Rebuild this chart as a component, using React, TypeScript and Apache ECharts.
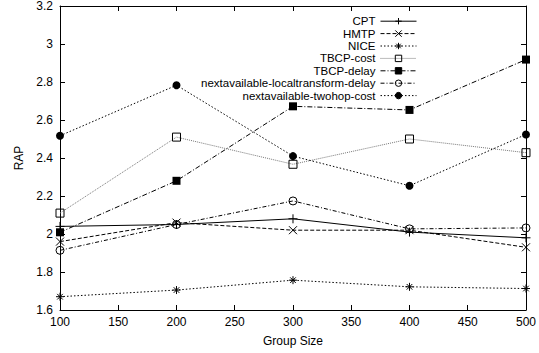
import React, { useEffect, useRef } from "react";
import * as echarts from "echarts";

const groupSizes = [100, 200, 300, 400, 500];
const seriesNames = [
  "CPT",
  "HMTP",
  "NICE",
  "TBCP-cost",
  "TBCP-delay",
  "nextavailable-localtransform-delay",
  "nextavailable-twohop-cost",
];
const cpt = [2.04, 2.05, 2.08, 2.01, 1.98];
const hmtp = [1.96, 2.06, 2.02, 2.02, 1.93];
const nice = [1.67, 1.705, 1.757, 1.722, 1.713];
const tbcpCost = [2.11, 2.51, 2.367, 2.5, 2.428];
const tbcpDelay = [2.009, 2.28, 2.672, 2.653, 2.918];
const localDelay = [1.914, 2.05, 2.174, 2.027, 2.032];
const twohopCost = [2.517, 2.783, 2.41, 2.254, 2.524];
const xTicks = [100, 150, 200, 250, 300, 350, 400, 450, 500];
const yTicks = [1.6, 1.8, 2, 2.2, 2.4, 2.6, 2.8, 3, 3.2];

const FONT = "Liberation Sans, Arial, Helvetica, sans-serif";

export default function App() {
  const ref = useRef<HTMLDivElement>(null);
  useEffect(() => {
    const chart = echarts.init(ref.current!, null, { renderer: "svg" });
    const values = [cpt, hmtp, nice, tbcpCost, tbcpDelay, localDelay, twohopCost];
    const plus = "path://M5 0 L5 10 M0 5 L10 5";
    const cross = "path://M0 0 L10 10 M10 0 L0 10";
    const star = "path://M5 0 L5 10 M0 5 L10 5 M1.5 1.5 L8.5 8.5 M8.5 1.5 L1.5 8.5";
    const sq = "path://M0 0 L10 0 L10 10 L0 10 Z";
    const circ = "path://M10 5 A5 5 0 1 1 0 5 A5 5 0 1 1 10 5 Z";
    const styles: any[] = [
      { symbol: plus, size: 9, hollow: true, dash: "solid", color: "#000" },
      { symbol: cross, size: 8, hollow: true, dash: [4, 2], color: "#000" },
      { symbol: star, size: 8, hollow: true, dash: [1.5, 2], color: "#000" },
      { symbol: sq, size: 8, hollow: true, dash: [1, 1], color: "#777" },
      { symbol: "rect", size: 8, hollow: false, dash: [5, 2, 1, 2], color: "#000" },
      { symbol: circ, size: 8, hollow: true, dash: [4, 2, 1, 2], color: "#000" },
      { symbol: "circle", size: 8, hollow: false, dash: [1.5, 2], color: "#000" },
    ];
    const series = seriesNames.map((name, i) => {
      const s = styles[i];
      return {
        name,
        type: "line",
        data: groupSizes.map((x, j) => [x, values[i][j]]),
        symbol: s.symbol,
        symbolSize: s.size,
        lineStyle: { color: s.color, width: 1, type: s.dash },
        itemStyle: s.hollow
          ? { color: "none", borderColor: "#000", borderWidth: 1 }
          : { color: "#000", borderColor: "#000", borderWidth: 0 },
        showSymbol: true,
        z: 3,
      };
    });
    const axisCommon = {
      axisLine: { show: true, lineStyle: { color: "#000", width: 1 } },
      axisTick: { show: true, inside: true, length: 5, lineStyle: { color: "#000" } },
      splitLine: { show: false },
    };
    chart.setOption({
      animation: false,
      grid: { left: 60, right: 12, top: 4, bottom: 43 },
      legend: {
        orient: "vertical",
        right: 117,
        top: 10,
        align: "right",
        itemWidth: 36,
        itemHeight: 8,
        itemGap: 0,
        lineStyle: { width: 1 },
        itemStyle: { borderWidth: 1 },
        textStyle: { fontFamily: FONT, fontSize: 11.5, color: "#000", lineHeight: 12.4 },
        data: seriesNames,
      },
      xAxis: [
        {
          type: "value",
          min: 100,
          max: 500,
          interval: 50,
          ...axisCommon,
          axisLabel: { fontFamily: FONT, fontSize: 12, color: "#000", margin: 6 },
          name: "Group Size",
          nameLocation: "middle",
          nameGap: 25,
          nameTextStyle: { fontFamily: FONT, fontSize: 12, color: "#000" },
        },
        {
          type: "value",
          position: "top",
          min: 100,
          max: 500,
          interval: 50,
          ...axisCommon,
          axisLabel: { show: false },
        },
      ],
      yAxis: [
        {
          type: "value",
          min: 1.6,
          max: 3.2,
          interval: 0.2,
          ...axisCommon,
          axisLabel: {
            fontFamily: FONT,
            fontSize: 12,
            color: "#000",
            margin: 7,
            formatter: (v: number) => String(Math.round(v * 10) / 10),
          },
          name: "RAP",
          nameLocation: "middle",
          nameGap: 33,
          nameTextStyle: { fontFamily: FONT, fontSize: 12, color: "#000" },
        },
        {
          type: "value",
          position: "right",
          min: 1.6,
          max: 3.2,
          interval: 0.2,
          ...axisCommon,
          axisLabel: { show: false },
        },
      ],
      series,
    });
    return () => chart.dispose();
  }, []);
  return <div ref={ref} style={{ width: 539, height: 353, position: "absolute", left: 0, top: 0, background: "#fff" }} />;
}
